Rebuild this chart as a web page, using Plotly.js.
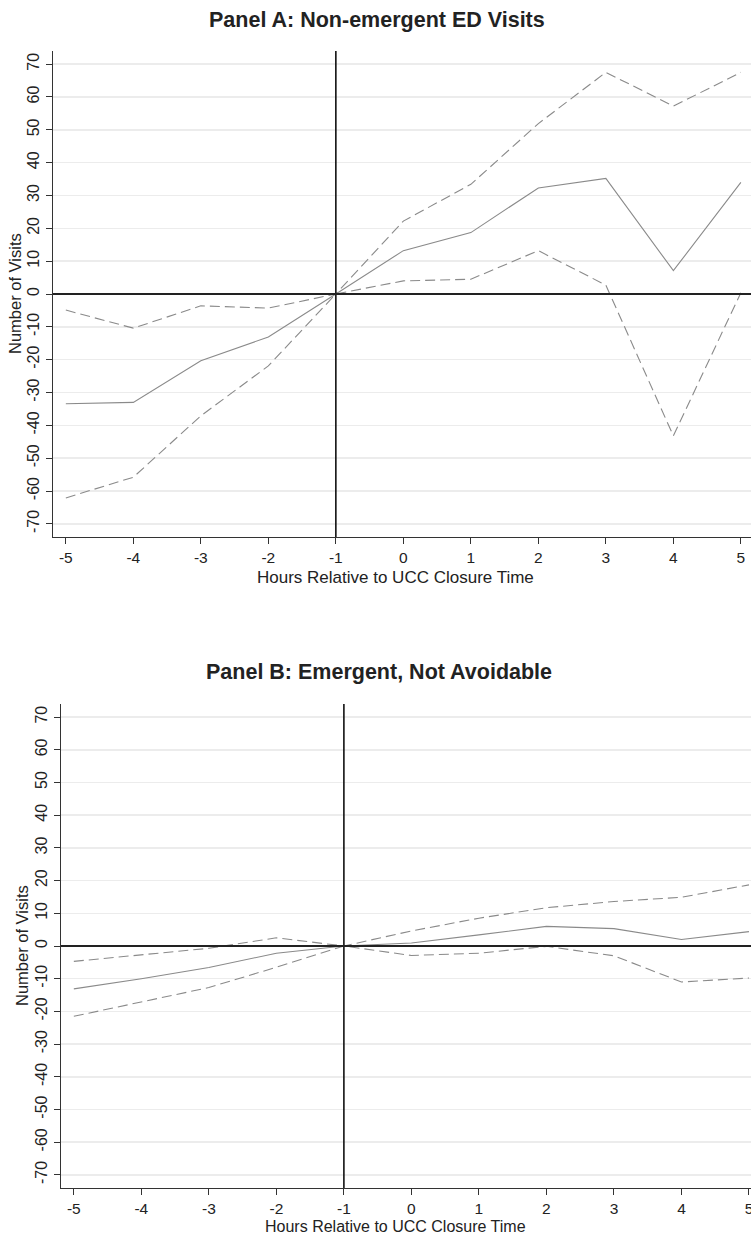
<!DOCTYPE html>
<html>
<head>
<meta charset="utf-8">
<script src="https://cdn.plot.ly/plotly-3.0.1.min.js"></script>
<style>html,body{margin:0;padding:0;background:#fff;}#chart{width:751px;height:1234px;}</style>
</head>
<body>
<div id="chart"></div>
<script>
// Hours relative to UCC closure time
const hours = [-5, -4, -3, -2, -1, 0, 1, 2, 3, 4, 5];

// Panel A: Non-emergent ED Visits
const aEstimate = [-33.4, -33.0, -20.3, -13.1, 0, 13.2, 18.7, 32.3, 35.2, 7.1, 34.0];
const aUpper    = [-4.9, -10.4, -3.6, -4.3, 0, 22.2, 33.4, 51.9, 67.5, 57.2, 67.5];
const aLower    = [-62.1, -55.8, -37.1, -21.9, 0, 4.0, 4.5, 13.2, 2.7, -43.2, 0.4];

// Panel B: Emergent, Not Avoidable
const bEstimate = [-13.1, -10.0, -6.6, -2.2, 0, 0.9, 3.4, 6.0, 5.3, 2.0, 4.4];
const bUpper    = [-4.7, -2.8, -0.7, 2.5, 0, 4.6, 8.5, 11.7, 13.6, 14.9, 18.7];
const bLower    = [-21.5, -17.2, -12.7, -6.5, 0, -2.9, -2.2, -0.1, -3.0, -11.0, -9.8];

const yTicks = [-70, -60, -50, -40, -30, -20, -10, 0, 10, 20, 30, 40, 50, 60, 70];
const panelTitles = ["Panel A: Non-emergent ED Visits", "Panel B: Emergent, Not Avoidable"];
const xTitle = "Hours Relative to UCC Closure Time";
const yTitle = "Number of Visits";

const W = 751, H = 1234;
const lineColor = "#8a8a8a";
const FONT = "Liberation Sans, Arial, sans-serif";

function tr(x, y, xa, ya, dashed) {
  return {
    x: x, y: y, xaxis: xa, yaxis: ya, type: "scatter", mode: "lines",
    line: {color: lineColor, width: 1.1, dash: dashed ? "10px,5px" : "solid"},
    hoverinfo: "skip", showlegend: false
  };
}

const data = [
  tr(hours, aUpper, "x", "y", true),
  tr(hours, aLower, "x", "y", true),
  tr(hours, aEstimate, "x", "y", false),
  tr(hours, bUpper, "x2", "y2", true),
  tr(hours, bLower, "x2", "y2", true),
  tr(hours, bEstimate, "x2", "y2", false)
];

// pixel geometry
const A = {l: 53, r: 751, t: 51, b: 537};
const B = {l: 61, r: 751, t: 704, b: 1188};

function xaxisCfg(l, anchor, range) {
  return {
    domain: [l / W, 1], anchor: anchor, range: range,
    tickvals: hours, ticktext: hours.map(String),
    ticks: "outside", ticklen: 6, tickwidth: 1, tickcolor: "#333",
    ticklabelstandoff: 0, ticklabeloverflow: "allow",
    showline: true, linecolor: "#333", linewidth: 1.3,
    showgrid: false, zeroline: false,
    tickfont: {family: FONT, size: 15.5, color: "#222"}
  };
}
function yaxisCfg(t, b, anchor) {
  return {
    domain: [1 - b / H, 1 - t / H], anchor: anchor, range: [-74, 74],
    tickvals: yTicks, ticktext: yTicks.map(String), tickangle: -90,
    ticks: "outside", ticklen: 6, tickwidth: 1, tickcolor: "#333",
    showline: true, linecolor: "#333", linewidth: 1.3,
    showgrid: true, gridcolor: "#ececec", gridwidth: 1.5,
    zeroline: false,
    tickfont: {family: FONT, size: 16, color: "#222"}
  };
}

const layout = {
  width: W, height: H,
  margin: {l: 0, r: 0, t: 0, b: 0},
  paper_bgcolor: "#fff", plot_bgcolor: "#fff",
  xaxis: xaxisCfg(A.l, "y", [-5.19, 5.15]),
  yaxis: yaxisCfg(A.t, A.b, "x"),
  xaxis2: xaxisCfg(B.l, "y2", [-5.19, 5.03]),
  yaxis2: yaxisCfg(B.t, B.b, "x2"),
  shapes: [
    {type: "line", xref: "x", yref: "y domain", x0: -1, x1: -1, y0: 0, y1: 1, line: {color: "#111", width: 1.6}},
    {type: "line", xref: "x domain", yref: "y", x0: 0, x1: 1, y0: 0, y1: 0, line: {color: "#222", width: 2}},
    {type: "line", xref: "x2", yref: "y2 domain", x0: -1, x1: -1, y0: 0, y1: 1, line: {color: "#111", width: 1.6}},
    {type: "line", xref: "x2 domain", yref: "y2", x0: 0, x1: 1, y0: 0, y1: 0, line: {color: "#222", width: 2}}
  ],
  annotations: [
    {text: "<b>" + panelTitles[0] + "</b>", xref: "paper", yref: "paper", x: 377 / W, y: 1 - 20 / H,
     xanchor: "center", yanchor: "middle", showarrow: false, font: {family: FONT, size: 21.5, color: "#222"}},
    {text: "<b>" + panelTitles[1] + "</b>", xref: "paper", yref: "paper", x: 379 / W, y: 1 - 672 / H,
     xanchor: "center", yanchor: "middle", showarrow: false, font: {family: FONT, size: 21.5, color: "#222"}},
    {text: xTitle, xref: "paper", yref: "paper", x: 395 / W, y: 1 - 577 / H,
     xanchor: "center", yanchor: "middle", showarrow: false, font: {family: FONT, size: 17, color: "#222"}},
    {text: xTitle, xref: "paper", yref: "paper", x: 395 / W, y: 1 - 1226 / H,
     xanchor: "center", yanchor: "middle", showarrow: false, font: {family: FONT, size: 16, color: "#222"}},
    {text: yTitle, xref: "paper", yref: "paper", x: 15 / W, y: 1 - 294 / H, textangle: -90,
     xanchor: "center", yanchor: "middle", showarrow: false, font: {family: FONT, size: 16.5, color: "#222"}},
    {text: yTitle, xref: "paper", yref: "paper", x: 22 / W, y: 1 - 946 / H, textangle: -90,
     xanchor: "center", yanchor: "middle", showarrow: false, font: {family: FONT, size: 16.5, color: "#222"}}
  ]
};

Plotly.newPlot("chart", data, layout, {staticPlot: true, displayModeBar: false});
</script>
</body>
</html>
